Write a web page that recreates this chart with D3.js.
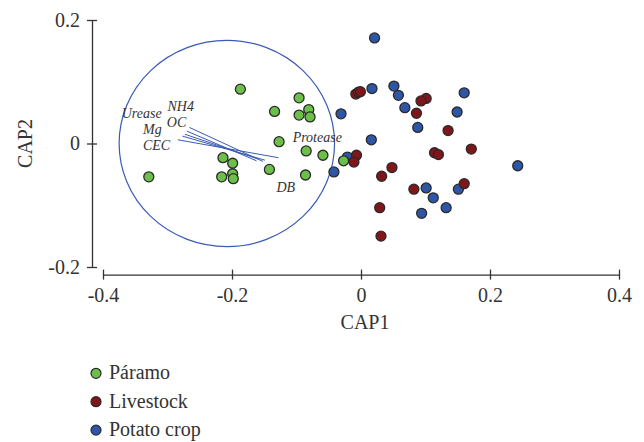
<!DOCTYPE html>
<html>
<head>
<meta charset="utf-8">
<script src="https://cdn.jsdelivr.net/npm/d3@7"></script>
<style>
  body { margin: 0; background: #fff; }
  svg { font-family: 'Liberation Serif', 'Times New Roman', serif; }
  .axis path, .axis line { stroke: #333; stroke-width: 1.3; }
  .axis text { font-size: 20px; fill: #333; font-family: 'Liberation Serif', serif; }
  .axis-title { font-size: 20px; fill: #333; }
  .env-label { font-size: 14px; font-style: italic; fill: #333; }
  .legend text { font-size: 20px; fill: #333; }
</style>
</head>
<body>
<svg id="chart"></svg>
<script>
// CAP1 / CAP2 scores
const paramoScores = [
  [-0.187, 0.088], [-0.096, 0.074], [-0.134, 0.052], [-0.081, 0.055], [-0.096, 0.046],
  [-0.079, 0.043], [-0.127, 0.003], [-0.085, -0.012], [-0.059, -0.019], [-0.214, -0.023],
  [-0.199, -0.032], [-0.142, -0.042], [-0.199, -0.049], [-0.216, -0.054], [-0.198, -0.057],
  [-0.329, -0.054], [-0.086, -0.051], [-0.027, -0.028]
];
const livestockScores = [
  [-0.008, 0.080], [-0.004, 0.083], [-0.001, 0.084], [0.101, 0.073], [0.093, 0.069],
  [0.086, 0.049], [0.135, 0.021], [0.171, -0.009], [0.114, -0.015], [0.120, -0.018],
  [-0.007, -0.019], [-0.011, -0.030], [0.048, -0.039], [0.032, -0.053], [0.082, -0.074],
  [0.160, -0.065], [0.029, -0.104], [0.031, -0.150]
];
const potatoScores = [
  [0.021, 0.171], [0.017, 0.089], [0.051, 0.093], [0.058, 0.078], [0.068, 0.058],
  [-0.031, 0.048], [0.160, 0.082], [0.149, 0.051], [0.088, 0.026], [0.016, 0.006],
  [-0.021, -0.022], [-0.042, -0.046], [0.243, -0.036], [0.101, -0.072], [0.112, -0.088],
  [0.151, -0.074], [0.132, -0.104], [0.094, -0.113]
];
const groupNames = ['Páramo', 'Livestock', 'Potato crop'];

// environmental vectors: [cap1 start, cap2 start, cap1 end, cap2 end]
const vectorSegments = [
  [-0.266, 0.026, -0.152, -0.029],
  [-0.270, 0.020, -0.162, -0.028],
  [-0.273, 0.015, -0.160, -0.025],
  [-0.277, 0.012, -0.149, -0.027],
  [-0.284, 0.006, -0.128, -0.023]
];
// label name, cap1, cap2 (text anchor)
const envLabels = [
  ['Urease', -0.371, 0.041],
  ['NH4', -0.300, 0.053],
  ['OC', -0.301, 0.027],
  ['Mg', -0.338, 0.016],
  ['CEC', -0.338, -0.011],
  ['Protease', -0.106, 0.003],
  ['DB', -0.131, -0.079]
];
const circleCenter = [-0.208, 0];
const circleRadius = 0.167;

const xTicks = [-0.4, -0.2, 0, 0.2, 0.4];
const yTicks = [-0.2, 0, 0.2];

class CapPlot {
  constructor(_config) {
    this.config = {
      parentElement: _config.parentElement,
      containerWidth: _config.containerWidth || 644,
      containerHeight: _config.containerHeight || 442,
      margin: _config.margin || {top: 20, right: 25, bottom: 175, left: 103},
      colors: _config.colors || ['#6cc04a', '#80161a', '#2f56a6'],
      pointRadius: _config.pointRadius || 5
    };
    this.initVis();
  }

  initVis() {
    let vis = this;
    vis.width = vis.config.containerWidth - vis.config.margin.left - vis.config.margin.right;
    vis.height = vis.config.containerHeight - vis.config.margin.top - vis.config.margin.bottom;

    vis.xScale = d3.scaleLinear().domain([-0.4, 0.4]).range([0, vis.width]);
    vis.yScale = d3.scaleLinear().domain([-0.2, 0.2]).range([vis.height, 0]);

    const fmt = d => d === 0 ? '0' : d.toFixed(1);

    vis.xAxis = d3.axisBottom(vis.xScale)
        .tickValues(xTicks)
        .tickFormat(fmt)
        .tickSize(5)
        .tickSizeOuter(0)
        .tickPadding(8.5);

    vis.yAxis = d3.axisLeft(vis.yScale)
        .tickValues(yTicks)
        .tickFormat(fmt)
        .tickSize(5)
        .tickSizeOuter(0)
        .tickPadding(7);

    vis.svg = d3.select(vis.config.parentElement)
        .attr('width', vis.config.containerWidth)
        .attr('height', vis.config.containerHeight);

    vis.chart = vis.svg.append('g')
        .attr('transform', `translate(${vis.config.margin.left},${vis.config.margin.top})`);

    // axes are detached from the plot corner
    vis.xAxisG = vis.chart.append('g')
        .attr('class', 'axis x-axis')
        .attr('transform', `translate(0,${vis.height + 7.6})`)
        .call(vis.xAxis);
    vis.xAxisG.selectAll('.tick line').attr('y1', -5);

    vis.yAxisG = vis.chart.append('g')
        .attr('class', 'axis y-axis')
        .attr('transform', 'translate(-11,0)')
        .call(vis.yAxis);
    vis.yAxisG.selectAll('.tick line').attr('x1', 5);

    vis.chart.append('text')
        .attr('class', 'axis-title')
        .attr('x', vis.width / 2 + 4)
        .attr('y', vis.height + 62)
        .style('text-anchor', 'middle')
        .text('CAP1');

    vis.chart.append('text')
        .attr('class', 'axis-title')
        .attr('transform', `translate(-71.5,${vis.yScale(0)}) rotate(-90)`)
        .style('text-anchor', 'middle')
        .text('CAP2');

    vis.renderVis();
  }

  renderVis() {
    let vis = this;
    const x = vis.xScale, y = vis.yScale;

    vis.chart.append('ellipse')
        .attr('cx', x(circleCenter[0]))
        .attr('cy', y(circleCenter[1]))
        .attr('rx', x(circleRadius) - x(0))
        .attr('ry', y(0) - y(circleRadius))
        .attr('fill', 'none')
        .attr('stroke', '#3a5bb5')
        .attr('stroke-width', 1.2);

    vis.chart.selectAll('.vector')
        .data(vectorSegments)
        .join('line')
          .attr('class', 'vector')
          .attr('x1', d => x(d[0]))
          .attr('y1', d => y(d[1]))
          .attr('x2', d => x(d[2]))
          .attr('y2', d => y(d[3]))
          .attr('stroke', '#3a5bb5')
          .attr('stroke-width', 1);

    vis.chart.selectAll('.env-label')
        .data(envLabels)
        .join('text')
          .attr('class', 'env-label')
          .attr('x', d => x(d[1]))
          .attr('y', d => y(d[2]))
          .text(d => d[0]);

    // draw order: potato, livestock, then páramo on top
    const layers = [
      {data: potatoScores, color: vis.config.colors[2]},
      {data: livestockScores, color: vis.config.colors[1]},
      {data: paramoScores, color: vis.config.colors[0]}
    ];
    vis.chart.selectAll('.group')
        .data(layers)
        .join('g')
          .attr('class', 'group')
          .attr('fill', d => d.color)
        .selectAll('circle')
        .data(d => d.data)
        .join('circle')
          .attr('cx', d => x(d[0]))
          .attr('cy', d => y(d[1]))
          .attr('r', vis.config.pointRadius)
          .attr('stroke', '#2a2a2a')
          .attr('stroke-width', 1.3);

    // legend below the plot
    const legend = vis.svg.append('g')
        .attr('class', 'legend')
        .attr('transform', 'translate(96,373.3)');
    const item = legend.selectAll('g')
        .data(groupNames)
        .join('g')
          .attr('transform', (d, i) => `translate(0,${i * 28.4})`);
    item.append('circle')
        .attr('r', 5)
        .attr('fill', (d, i) => vis.config.colors[i])
        .attr('stroke', '#2a2a2a')
        .attr('stroke-width', 1.2);
    item.append('text')
        .attr('x', 13)
        .attr('y', 6)
        .text(d => d);
  }
}

new CapPlot({parentElement: '#chart'});
</script>
</body>
</html>
